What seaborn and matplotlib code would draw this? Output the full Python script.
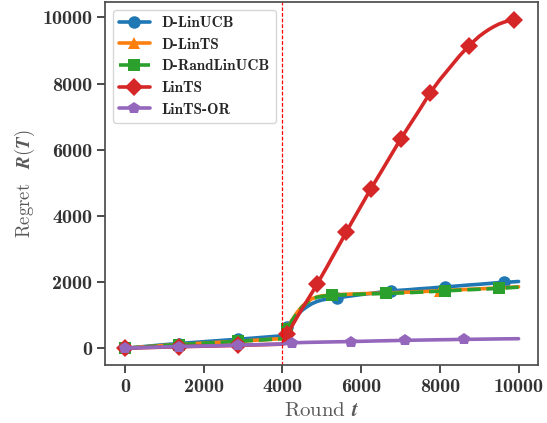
import matplotlib
matplotlib.use("Agg")
import matplotlib.pyplot as plt
import seaborn as sns
import pandas as pd

# rounds sampled every 125
rounds = list(range(0, 10001, 125))

d_linucb = [0, 14, 28, 42, 55, 69, 83, 97, 110, 122, 133, 145, 156, 167, 178, 189,
            200, 211, 222, 232, 243, 254, 264, 275, 285, 297, 308, 320, 332, 344, 356, 368, 380,
            640, 850, 1010, 1150, 1260, 1350, 1415, 1460, 1488, 1505, 1525, 1545,
            1565, 1585, 1605, 1625, 1643, 1660, 1680, 1700, 1715, 1730, 1743, 1755,
            1765, 1775, 1788, 1800, 1810, 1820, 1833, 1845, 1855, 1865, 1878, 1890,
            1903, 1915, 1925, 1935, 1948, 1960, 1973, 1985, 1993, 2000, 2010, 2020]
d_lints = [0, 11, 22, 34, 45, 55, 65, 77, 88, 97, 105, 114, 122, 131, 140, 149,
           158, 166, 174, 182, 190, 198, 206, 214, 222, 231, 240, 249, 258, 267, 276, 286, 295,
           600, 870, 1090, 1270, 1400, 1500, 1555, 1585, 1600, 1612, 1620, 1628,
           1634, 1640, 1645, 1650, 1655, 1660, 1664, 1668, 1673, 1678, 1683, 1688,
           1694, 1700, 1706, 1712, 1719, 1726, 1733, 1740, 1748, 1755, 1762, 1770,
           1778, 1785, 1791, 1798, 1805, 1812, 1819, 1826, 1834, 1842, 1850, 1858]
d_randlinucb = [0, 11, 22, 33, 44, 54, 64, 75, 86, 95, 103, 112, 120, 129, 138, 146,
                155, 163, 171, 179, 187, 195, 203, 211, 219, 228, 237, 246, 255, 264, 273, 281, 290,
                580, 850, 1070, 1250, 1380, 1480, 1540, 1570, 1588, 1600, 1608, 1615,
                1621, 1627, 1632, 1637, 1641, 1646, 1650, 1654, 1658, 1663, 1668, 1673,
                1679, 1685, 1691, 1698, 1705, 1713, 1720, 1728, 1735, 1743, 1750, 1758,
                1765, 1772, 1778, 1785, 1792, 1798, 1805, 1812, 1821, 1830, 1839, 1848]
lints = [0, 5, 10, 15, 20, 24, 28, 32, 36, 40, 44, 48, 51, 55, 58, 61,
         64, 68, 71, 75, 78, 82, 86, 90, 94, 98, 102, 106, 110, 114, 118, 122, 126,
         420, 690, 950, 1200, 1440, 1680, 1930, 2190, 2450, 2720, 2985, 3250,
         3520, 3790, 4050, 4310, 4570, 4830, 5075, 5320, 5570, 5820, 6070, 6320,
         6550, 6780, 7010, 7240, 7480, 7720, 7920, 8120, 8300, 8480, 8660, 8840,
         9000, 9150, 9295, 9430, 9540, 9640, 9725, 9800, 9855, 9900, 9935, 9960]
lints_or = [0, 6, 12, 18, 24, 29, 33, 38, 42, 46, 50, 54, 57, 61, 64, 67,
            70, 74, 77, 81, 84, 88, 92, 96, 100, 104, 108, 112, 115, 119, 122, 126, 130,
            150, 165, 170, 175, 179, 182, 185, 188, 191, 194, 197, 199,
            202, 205, 209, 212, 216, 219, 223, 226, 229, 232, 235, 238,
            241, 244, 247, 249, 252, 254, 257, 259, 261, 263, 266, 268,
            270, 272, 274, 276, 278, 280, 282, 284, 286, 287, 289, 290]

change_point = 4000

series = [
    ("D-LinUCB", d_linucb, "o", "-", "tab:blue"),
    ("D-LinTS", d_lints, "^", "-", "tab:orange"),
    ("D-RandLinUCB", d_randlinucb, "s", "--", "tab:green"),
    ("LinTS", lints, "D", "-", "tab:red"),
    ("LinTS-OR", lints_or, "p", "-", "tab:purple"),
]

sns.set_theme(style="ticks")
plt.rcParams["font.family"] = ["cmb10", "DejaVu Sans"]
plt.rcParams["mathtext.fontset"] = "cm"
plt.rcParams["axes.unicode_minus"] = False

fig = plt.figure(figsize=(5.47, 4.23), dpi=100)
ax = fig.add_axes([0.1927, 0.1376, 0.7913, 0.857])

for name, vals, mk, ls, col in series:
    df = pd.DataFrame({"round": rounds, "regret": vals})
    sns.lineplot(data=df, x="round", y="regret", ax=ax, label=name, color=col,
                 marker=mk, linestyle=ls, linewidth=2.6, markersize=9,
                 markevery=0.1, markeredgewidth=0)

ax.axvline(change_point, color="red", linestyle="--", linewidth=0.9, dashes=(3, 1.5))

ax.set_xlabel(r"Round $\boldsymbol{t}$", fontfamily="cmr10", fontsize=15, color="0.35")
ax.set_ylabel(r"Regret $\;\;\boldsymbol{R(T)}$", fontfamily="cmr10", fontsize=13.5,
              color="0.35")
ax.tick_params(labelsize=14.5, colors="0.2")
ax.set_xticks([0, 2000, 4000, 6000, 8000, 10000])
ax.set_yticks([0, 2000, 4000, 6000, 8000, 10000])
for sp in ax.spines.values():
    sp.set_color("0.3")

ax.legend(loc="upper left", prop={"family": "cmb10", "size": 11})

fig.savefig("out.png", dpi=100)
